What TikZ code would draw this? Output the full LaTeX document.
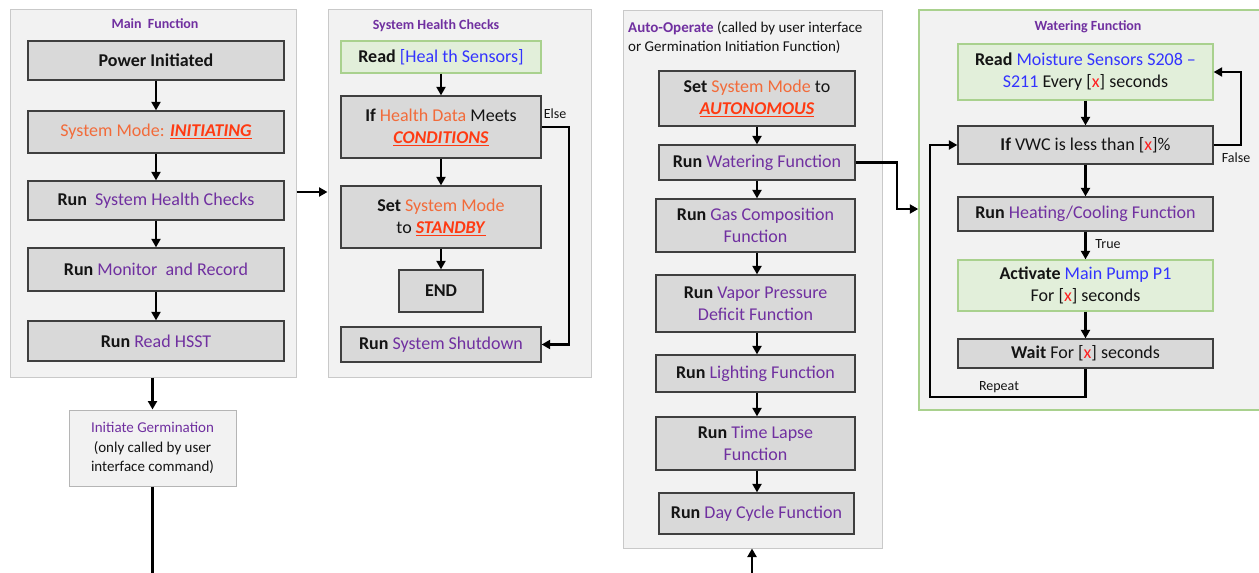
\documentclass[tikz,border=0pt]{standalone}
\usepackage{fontspec}
\setmainfont{Carlito}
\usetikzlibrary{arrows.meta,calc}

\definecolor{fnpurple}{HTML}{7030A0}
\definecolor{modeorange}{HTML}{F26B3A}
\definecolor{modered}{HTML}{FF3A12}
\definecolor{sensorblue}{HTML}{3333FF}
\definecolor{valred}{HTML}{FF2020}
\definecolor{panelfill}{HTML}{F2F2F2}
\definecolor{panelline}{HTML}{C9C9C9}
\definecolor{stepfill}{HTML}{D9D9D9}
\definecolor{stepline}{HTML}{3F3F3F}
\definecolor{readfill}{HTML}{E2EFDA}
\definecolor{readline}{HTML}{A9D18E}
\definecolor{inktext}{HTML}{141414}

\newcommand{\modeword}[1]{\textcolor{modered}{\underline{\textbf{\textit{#1}}}}}
\newcommand{\fnname}[1]{\textcolor{fnpurple}{#1}}
\newcommand{\sensor}[1]{\textcolor{sensorblue}{#1}}
\newcommand{\xval}{[\textcolor{valred}{x}]}

\tikzset{
  panel/.style={draw=panelline, fill=panelfill, line width=1pt, inner sep=0pt},
  stepbox/.style={draw=stepline, fill=stepfill, line width=1.3pt, inner sep=0pt,
    align=center, text=inktext, font=\fontsize{18}{22}\selectfont},
  readbox/.style={stepbox, draw=readline, fill=readfill},
  flow/.style={line width=2.2pt, draw=black, -{Triangle[length=8.5pt,width=9pt]}},
  wire/.style={line width=2.2pt, draw=black},
  paneltitle/.style={font=\fontsize{14}{17}\selectfont\bfseries, text=fnpurple, inner sep=0pt},
  tag/.style={font=\fontsize{14}{16}\selectfont, text=inktext, inner sep=0pt},
}

\begin{document}
\begin{tikzpicture}[x=1pt,y=-1pt]
\useasboundingbox (0,0) rectangle (1259,573);
\clip (0,0) rectangle (1259,573);

% ---------- panels ----------
\node[panel, minimum width=286pt, minimum height=368pt] (mainc) at (153,193) {};
\node[panel, minimum width=263pt, minimum height=368pt] (shcc) at (459.5,193) {};
\node[panel, minimum width=259pt, minimum height=538pt] (autoc) at (752.5,279) {};
\node[panel, draw=readline, line width=1.5pt, minimum width=351pt, minimum height=400pt] (wcont) at (1094.5,210) {};

% ---------- main function ----------
\node[paneltitle] (maint) at (155,24) {Main~~Function};
\node[stepbox, minimum width=256pt, minimum height=39pt] (pwr) at (156,60.5) {\textbf{Power Initiated}};
\node[stepbox, minimum width=256pt, minimum height=42pt] (mode) at (156,132)
  {\textcolor{modeorange}{System Mode:} \modeword{INITIATING}};
\node[stepbox, minimum width=256pt, minimum height=39pt] (shc) at (156,200.5)
  {\textbf{Run}~~\fnname{System Health Checks}};
\node[stepbox, minimum width=256pt, minimum height=43pt] (mon) at (156,269.5)
  {\textbf{Run} \fnname{Monitor~~and Record}};
\node[stepbox, minimum width=256pt, minimum height=40pt] (hsst) at (156,341)
  {\textbf{Run} \fnname{Read HSST}};

\draw[flow] (pwr.south) -- (mode.north);
\draw[flow] (mode.south) -- (shc.north);
\draw[flow] (shc.south) -- (mon.north);
\draw[flow] (mon.south) -- (hsst.north);

% ---------- germination entry ----------
\node[panel, draw=panelline!90!black, minimum width=167pt, minimum height=76pt, align=center,
  text=inktext, font=\fontsize{15}{19.3}\selectfont] (germ) at (152.5,448)
  {\fnname{Initiate Germination}\\(only called by user\\interface command)};
\draw[flow] (mainc.south -| germ.north) -- (germ.north);
\coordinate (gbot) at (152.5,585);
\draw[wire] (germ.south) -- (germ.south |- gbot);

% ---------- system health checks ----------
\node[paneltitle] (shct) at (436,26) {System Health Checks};
\node[readbox, minimum width=200pt, minimum height=32pt] (hread) at (441,57)
  {\textbf{Read} \sensor{[Heal th Sensors]}};
\node[stepbox, minimum width=200pt, minimum height=62pt] (ifh) at (441,127)
  {\textbf{If} \textcolor{modeorange}{Health Data} Meets\\\modeword{CONDITIONS}};
\node[stepbox, minimum width=200pt, minimum height=62pt] (setsb) at (441,217)
  {\textbf{Set} \textcolor{modeorange}{System Mode}\\to \modeword{STANDBY}};
\node[stepbox, minimum width=84pt, minimum height=42pt] (endn) at (441,291) {\textbf{END}};
\node[stepbox, minimum width=200pt, minimum height=35pt] (shut) at (441,344.5)
  {\textbf{Run} \fnname{System Shutdown}};

\draw[flow] (hread.south) -- (ifh.north);
\draw[flow] (ifh.south) -- (setsb.north);
\draw[flow] (setsb.south) -- (endn.north);
\draw[flow] (ifh.east) -- ++(27,0) |- (shut.east);
\node[tag] (elsel) at (555,114) {Else};

\coordinate (j1) at (0,192);
\draw[flow] (mainc.east |- j1) -- (shcc.west |- j1);

% ---------- auto-operate ----------
\node[anchor=west, align=left, inner sep=0pt, text=inktext,
  font=\fontsize{15}{19}\selectfont] (autot) at (628,37.5)
  {\textbf{\fnname{Auto-Operate}} (called by user interface\\or Germination Initiation Function)};
\node[stepbox, minimum width=196pt, minimum height=55pt] (auto) at (757,98.5)
  {\textbf{Set} \textcolor{modeorange}{System Mode} to\\\modeword{AUTONOMOUS}};
\node[stepbox, minimum width=196pt, minimum height=35pt] (water) at (757,162.5)
  {\textbf{Run} \fnname{Watering Function}};
\node[stepbox, minimum width=199pt, minimum height=53pt] (gas) at (755.5,225.5)
  {\textbf{Run} \fnname{Gas Composition}\\\fnname{Function}};
\node[stepbox, minimum width=199pt, minimum height=57pt] (vpd) at (755.5,303.5)
  {\textbf{Run} \fnname{Vapor Pressure}\\\fnname{Deficit Function}};
\node[stepbox, minimum width=199pt, minimum height=37pt] (light) at (755.5,373.5)
  {\textbf{Run} \fnname{Lighting Function}};
\node[stepbox, minimum width=199pt, minimum height=53pt] (tlapse) at (755.5,443.5)
  {\textbf{Run} \fnname{Time Lapse}\\\fnname{Function}};
\node[stepbox, minimum width=195pt, minimum height=41pt] (day) at (756.5,513.5)
  {\textbf{Run} \fnname{Day Cycle Function}};

\draw[flow] (auto.south) -- (auto.south |- water.north);
\draw[flow] (water.south) -- (water.south |- gas.north);
\draw[flow] (gas.south -| water.south) -- (water.south |- vpd.north);
\draw[flow] (vpd.south -| water.south) -- (water.south |- light.north);
\draw[flow] (light.south -| water.south) -- (water.south |- tlapse.north);
\draw[flow] (tlapse.south -| water.south) -- (water.south |- day.north);

\coordinate (abot) at (752,585);
\draw[flow] (abot) -- (abot |- autoc.south);

\coordinate (j2) at (897,209);
\draw[flow] (water.east) -| (j2) -- (j2 -| wcont.west);

% ---------- watering function ----------
\node[paneltitle] (wt) at (1088,27) {Watering Function};
\node[readbox, minimum width=255pt, minimum height=56pt] (rms) at (1085.5,72)
  {\textbf{Read} \sensor{Moisture Sensors S208 --}\\\sensor{S211} Every \xval{} seconds};
\node[stepbox, minimum width=255pt, minimum height=38pt] (ifv) at (1085.5,145)
  {\textbf{If} VWC is less than \xval\%};
\node[stepbox, minimum width=255pt, minimum height=34pt] (hc) at (1085.5,214)
  {\textbf{Run} \fnname{Heating/Cooling Function}};
\node[readbox, minimum width=255pt, minimum height=51pt] (act) at (1085.5,285.5)
  {\textbf{Activate} \sensor{Main Pump P1}\\For \xval{} seconds};
\node[stepbox, minimum width=255pt, minimum height=29pt] (wait) at (1085.5,353.5)
  {\textbf{Wait} For \xval{} seconds};

\draw[flow] (rms.south) -- (ifv.north);
\draw[flow] (ifv.south) -- (hc.north);
\draw[flow] (hc.south) -- (act.north);
\draw[flow] (act.south) -- (wait.north);
\node[tag] (truel) at (1108,244) {True};

\draw[flow] (ifv.east) -- ++(27,0) |- (rms.east);
\node[tag] (falsel) at (1236,158) {False};

\coordinate (rep) at (930,397);
\draw[flow] (wait.south) |- (rep) |- (ifv.west);
\node[tag] (repl) at (999,387) {Repeat};

\end{tikzpicture}
\end{document}
